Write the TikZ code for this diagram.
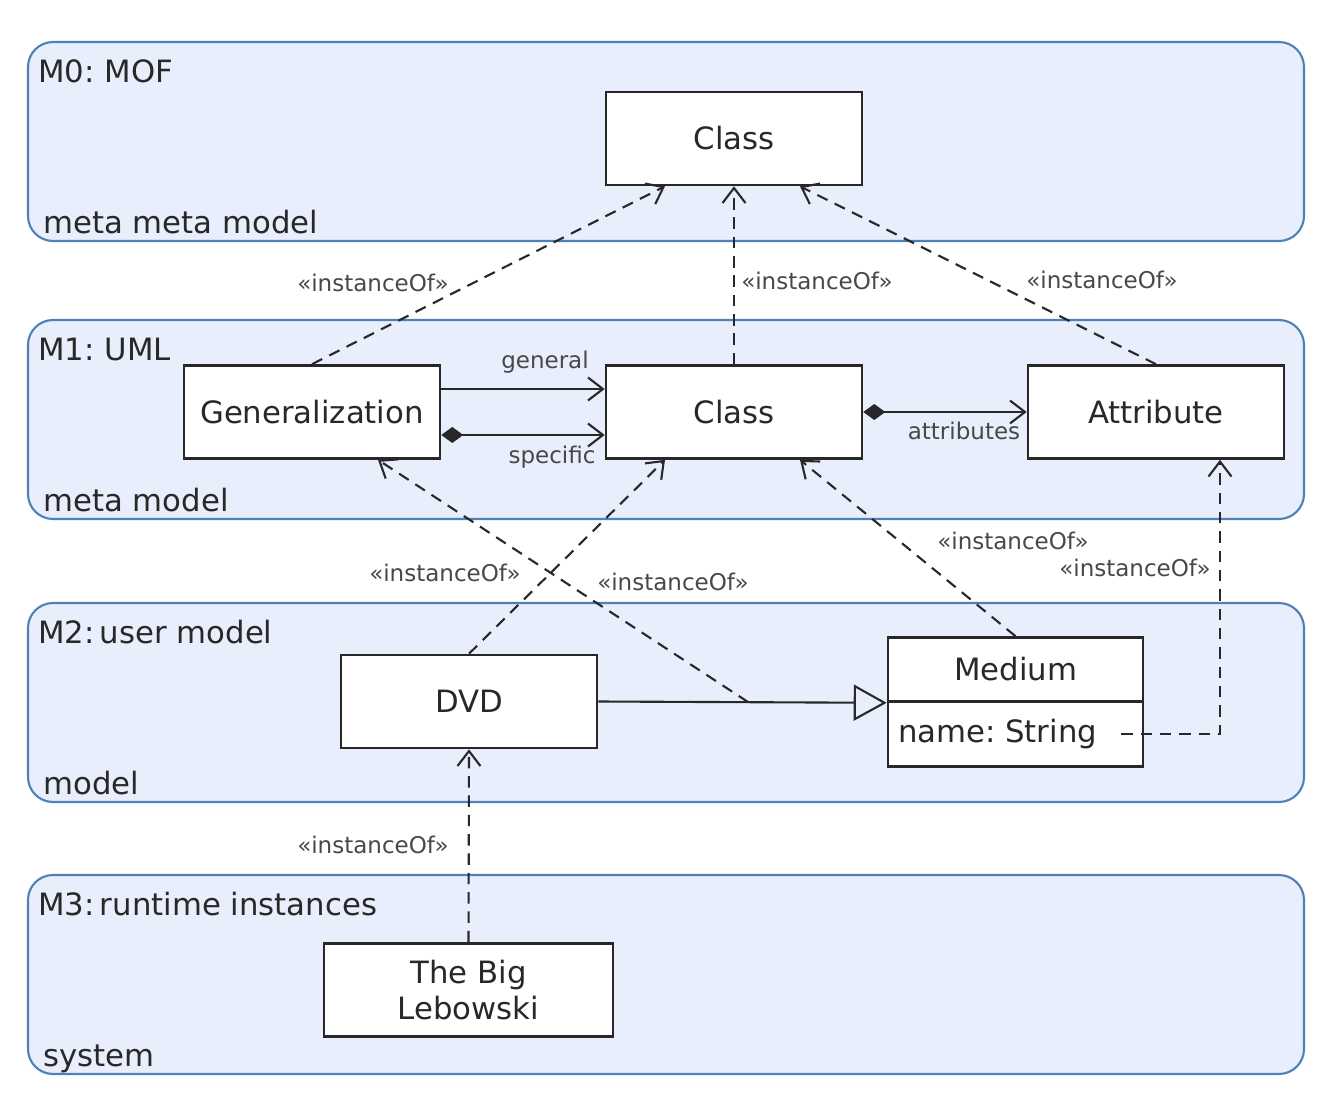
\documentclass[tikz,border=0pt]{standalone}
\usepackage{fontspec}
\setmainfont{DejaVu Sans}
\usetikzlibrary{arrows.meta}
\definecolor{layerfill}{RGB}{232,238,251}
\definecolor{layerdraw}{RGB}{78,128,186}
\definecolor{ink}{RGB}{40,40,40}

\begin{document}
\frenchspacing
\begin{tikzpicture}[x=0.02cm,y=-0.02cm,
    layer/.style={draw=layerdraw,fill=layerfill,line width=1.2pt,rounded corners=0.5cm},
    layername/.style={anchor=base west,inner sep=0,text=ink,font=\fontsize{17.5}{20}\selectfont},
    box/.style={draw=ink,fill=white,line width=1.5pt,minimum width=5.12cm,minimum height=1.86cm,
      text=ink,align=center,font=\fontsize{17.5}{20}\selectfont},
    stereo/.style={inner sep=0,text=ink!85,font=\fontsize{13.1}{15}\selectfont},
    barb/.tip={Straight Barb[length=0.3cm,width=0.46cm,line width=1.2pt]},
    inst/.style={draw=ink,line width=1.2pt,dash pattern=on 6.5pt off 4.5pt,-barb},
    assoc/.style={draw=ink,line width=1.2pt,-barb},
    comp/.style={draw=ink,line width=1.2pt,{Diamond[length=0.44cm,width=0.32cm]}-barb},
    inherit/.style={draw=ink,line width=1.2pt,-{Triangle[open,length=0.66cm,width=0.72cm,line width=1.2pt]}}]
    \useasboundingbox (0,0) rectangle (1326,1102);
    \foreach \y/\top/\bot in {42/M0: MOF/meta meta model,320/M1: UML/meta model,
      603/M2:\,user model/model,875/M3:\,runtime instances/system}
    {
    \draw[layer] (28,\y) rectangle +(1276,199);
    \node[layername] (top\y) at (38,\y+40) {\top};
    \node[layername] (bot\y) at (43,\y+191) {\bot};
    }
    \node[box] (mofclass) at (734,138.5) {Class};
    \node[box] (gen) at (312,412) {Generalization};
    \node[box] (class) at (734,412) {Class};
    \node[box] (attr) at (1156,412) {Attribute};
    \node[box] (dvd) at (469,701.5) {DVD};
    \node[box,minimum width=5.1cm,minimum height=1.28cm] (medium) at (1015.5,669.5) {Medium};
    \node[box,minimum width=5.1cm,minimum height=1.3cm,anchor=north,yshift=1.5pt] (medname) at (medium.south)
      {\makebox[4.7cm][l]{name: String}};
    \node[box,minimum width=5.78cm] (leb) at (468.5,990) {The Big\\Lebowski};
    \draw[inst] (gen.north) -- ([xshift=-1.38cm]mofclass.south);
    \draw[inst] (class.north) -- (mofclass.south);
    \draw[inst] (attr.north) -- ([xshift=1.32cm]mofclass.south);
    \draw[assoc] ([yshift=0.46cm]gen.east) -- ([yshift=0.46cm]class.west);
    \draw[comp] ([yshift=-0.46cm]gen.east) -- ([yshift=-0.46cm]class.west);
    \draw[comp] (class.east) -- (attr.west);
    \draw[inherit] (dvd.east) -- coordinate[pos=0.52] (genmid) (medium.south west);
    \draw[inst] (dvd.north) -- ([xshift=-1.38cm]class.south);
    \draw[inst] (medium.north) -- ([xshift=1.32cm]class.south);
    \draw[inst] (genmid) -- ([xshift=1.32cm]gen.south);
    \draw[inst] ([xshift=-0.46cm]medname.east) -| ([xshift=1.28cm]attr.south);
    \draw[inst] (leb.north) -- (dvd.south);
    \node[stereo] (lgeneral) at (545,362) {general};
    \node[stereo] (lspecific) at (552,457) {specific};
    \node[stereo] (lattr) at (964,431) {attributes};
    \node[stereo] (i1) at (373,283) {«instanceOf»};
    \node[stereo] (i2) at (817,281) {«instanceOf»};
    \node[stereo] (i3) at (1102,280) {«instanceOf»};
    \node[stereo] (i4) at (445,573) {«instanceOf»};
    \node[stereo] (i5) at (673,582) {«instanceOf»};
    \node[stereo] (i6) at (1013,541) {«instanceOf»};
    \node[stereo] (i7) at (1135,568) {«instanceOf»};
    \node[stereo] (i8) at (373,845) {«instanceOf»};
  \end{tikzpicture}
\end{document}
